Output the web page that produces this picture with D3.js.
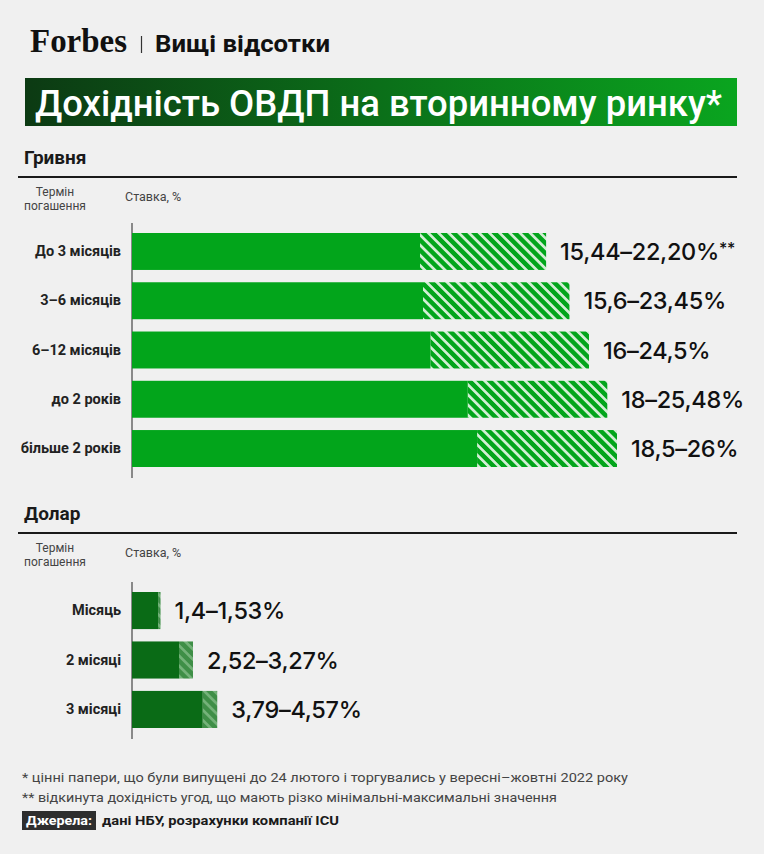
<!DOCTYPE html>
<html>
<head>
<meta charset="utf-8">
<script src="https://cdn.jsdelivr.net/npm/d3@7"></script>
<style>
  body { margin: 0; background: #f0f0f0; }
  svg { display: block; font-family: Roboto, "Noto Sans", sans-serif; }
</style>
</head>
<body>
<svg id="chart" width="764" height="854"></svg>
<script>
"use strict";

// гривня
const uahTerms = ['До 3 місяців', '3–6 місяців', '6–12 місяців', 'до 2 років', 'більше 2 років']
const uahMin = [15.44, 15.6, 16, 18, 18.5]
const uahMax = [22.20, 23.45, 24.5, 25.48, 26]
const uahLabels = ['15,44–22,20%', '15,6–23,45%', '16–24,5%', '18–25,48%', '18,5–26%']
const uahNotes = ['**', '', '', '', '']

// долар
const usdTerms = ['Місяць', '2 місяці', '3 місяці']
const usdMin = [1.4, 2.52, 3.79]
const usdMax = [1.53, 3.27, 4.57]
const usdLabels = ['1,4–1,53%', '2,52–3,27%', '3,79–4,57%']

const footnotes = [
	'* цінні папери, що були випущені до 24 лютого і торгувались у вересні–жовтні 2022 року',
	'** відкинута дохідність угод, що мають різко мінімальні-максимальні значення'
]

;(function() {
	const svg = d3.select('#chart')
	svg.append('rect').attr('width', 764).attr('height', 854).attr('fill', '#f0f0f0')

	const defs = svg.append('defs')
	const grad = defs.append('linearGradient').attr('id', 'banner')
	grad.append('stop').attr('offset', '0%').attr('stop-color', '#0c3a13')
	grad.append('stop').attr('offset', '100%').attr('stop-color', '#0aa51f')

	// stripes for the upper part of the range
	const hatch = (id, bg, fg) => {
		const p = defs.append('pattern').attr('id', id)
			.attr('patternUnits', 'userSpaceOnUse')
			.attr('width', 7.2).attr('height', 7.2)
			.attr('patternTransform', 'rotate(-45)')
		p.append('rect').attr('width', 7.2).attr('height', 7.2).attr('fill', bg)
		p.append('rect').attr('width', 2.7).attr('height', 7.2).attr('fill', fg)
	}
	hatch('hatchUah', '#02a51b', '#d2eed4')
	hatch('hatchUsd', '#3f8f47', '#74b279')

	// header
	svg.append('text').attr('x', 30).attr('y', 52)
		.attr('font-family', '"Liberation Serif", serif').attr('font-weight', 700)
		.attr('font-size', 34).attr('textLength', 97).attr('lengthAdjust', 'spacingAndGlyphs')
		.attr('fill', '#111').text('Forbes')
	svg.append('line').attr('x1', 141.5).attr('x2', 141.5).attr('y1', 36).attr('y2', 53)
		.attr('stroke', '#333').attr('stroke-width', 1.2)
	svg.append('text').attr('x', 155).attr('y', 52)
		.attr('font-weight', 700).attr('font-size', 23).attr('textLength', 175)
		.attr('lengthAdjust', 'spacingAndGlyphs').attr('fill', '#111').text('Вищі відсотки')

	svg.append('rect').attr('x', 25).attr('y', 78).attr('width', 712).attr('height', 48)
		.attr('fill', 'url(#banner)')
	svg.append('text').attr('x', 35).attr('y', 116)
		.attr('font-weight', 500).attr('font-size', 37).attr('fill', '#fff')
		.attr('textLength', 687).attr('lengthAdjust', 'spacingAndGlyphs')
		.text('Дохідність ОВДП на вторинному ринку*')

	const x = d3.scaleLinear().domain([0, 26]).range([132, 617])

	function section(opts) {
		const g = svg.append('g')
		g.append('text').attr('x', 24).attr('y', opts.head)
			.attr('font-weight', 700).attr('font-size', 19).attr('fill', '#1a1a1a').text(opts.name)
		g.append('line').attr('x1', 18).attr('x2', 737).attr('y1', opts.head + 13).attr('y2', opts.head + 13)
			.attr('stroke', '#1a1a1a').attr('stroke-width', 2)
		const sub = g.append('text').attr('text-anchor', 'middle').attr('font-size', 12)
			.attr('fill', '#444')
		sub.append('tspan').attr('x', 55).attr('y', opts.head + 32).text('Термін')
		sub.append('tspan').attr('x', 55).attr('y', opts.head + 46).text('погашення')
		g.append('text').attr('x', 125).attr('y', opts.head + 37).attr('font-size', 12.5)
			.attr('fill', '#444').text('Ставка, %')

		const y = d3.scaleBand().domain(opts.terms).range(opts.range).paddingInner(0.25)

		const axis = g.append('g').attr('transform', `translate(${x(0)},0)`)
			.call(d3.axisLeft(y).tickSize(0).tickPadding(11))
		axis.select('.domain').remove()
		axis.selectAll('text').attr('font-family', 'Roboto, sans-serif')
			.attr('font-size', 14.5).attr('font-weight', 700).attr('fill', '#222')
		g.append('line').attr('x1', x(0)).attr('x2', x(0))
			.attr('y1', opts.range[0] - 10).attr('y2', opts.range[1] + 11)
			.attr('stroke', '#222').attr('stroke-width', 1)

		const rows = g.selectAll('g.row').data(opts.terms).join('g').attr('class', 'row')
		rows.append('rect').attr('x', (d, i) => x(opts.min[i]))
			.attr('y', d => y(d)).attr('height', y.bandwidth())
			.attr('width', (d, i) => x(opts.max[i]) - x(opts.min[i]))
			.attr('fill', `url(#${opts.hatch})`)
		rows.append('rect').attr('x', x(0)).attr('y', d => y(d)).attr('height', y.bandwidth())
			.attr('width', (d, i) => x(opts.min[i]) - x(0)).attr('fill', opts.color)
		const lab = rows.append('text').attr('x', (d, i) => x(opts.max[i]) + 14)
			.attr('y', d => y(d) + y.bandwidth() / 2 + 8.5)
			.attr('font-family', 'Inter, Roboto, sans-serif')
			.attr('font-size', 23.5).attr('font-weight', 500).attr('fill', '#111')
			.attr('letter-spacing', -0.3)
		lab.append('tspan').text((d, i) => opts.labels[i])
		lab.append('tspan').attr('dy', -6).attr('font-size', 16)
			.text((d, i) => opts.notes ? opts.notes[i] : '')
	}

	section({ name: 'Гривня', head: 164, terms: uahTerms, min: uahMin, max: uahMax,
		labels: uahLabels, notes: uahNotes, range: [233, 467], color: '#02a51b', hatch: 'hatchUah' })
	section({ name: 'Долар', head: 520, terms: usdTerms, min: usdMin, max: usdMax,
		labels: usdLabels, range: [592, 728], color: '#0a6b16', hatch: 'hatchUsd' })

	// footer
	svg.selectAll('text.note').data(footnotes).join('text').attr('class', 'note')
		.attr('x', 22).attr('y', (d, i) => 782 + i * 20)
		.attr('font-size', 13.5).attr('fill', '#444')
		.attr('textLength', (d, i) => i ? 535 : 606).attr('lengthAdjust', 'spacingAndGlyphs')
		.text(d => d)
	svg.append('rect').attr('x', 22).attr('y', 811).attr('width', 74).attr('height', 19).attr('fill', '#2e2e2e')
	svg.append('text').attr('x', 26).attr('y', 825).attr('font-size', 13.5).attr('font-weight', 700)
		.attr('fill', '#fff').attr('textLength', 66).attr('lengthAdjust', 'spacingAndGlyphs').text('Джерела:')
	svg.append('text').attr('x', 102).attr('y', 825).attr('font-size', 13.5).attr('font-weight', 700)
		.attr('fill', '#1a1a1a').attr('textLength', 237).attr('lengthAdjust', 'spacingAndGlyphs')
		.text('дані НБУ, розрахунки компанії ICU')
})()
</script>
</body>
</html>
